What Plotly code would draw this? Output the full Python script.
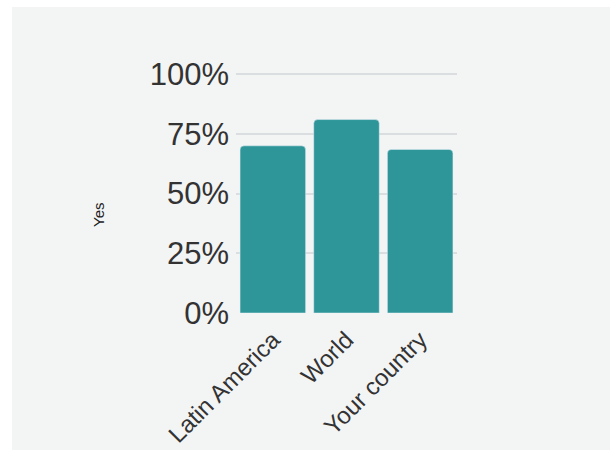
import plotly.graph_objects as go

# data
regions = ["Latin America", "World", "Your country"]
share_yes = [0.70, 0.81, 0.685]
y_ticks = [0, 0.25, 0.5, 0.75, 1.0]
y_tick_labels = ["0%", "25%", "50%", "75%", "100%"]

W, H = 612, 452
L, T = 236, 73
pw, ph = 221, 240
R, B = W - L - pw, H - T - ph

BG = "#f3f5f5"
TEAL = "#2e9699"


def px_x(x):
    return (x - L) / pw


def px_y(y):
    return (T + ph - y) / ph


fig = go.Figure(
    go.Bar(
        x=regions,
        y=share_yes,
        marker=dict(color=TEAL, cornerradius=4),
        hoverinfo="skip",
    )
)

# grey card behind the chart (white frame around it)
fig.add_shape(
    type="rect", xref="paper", yref="paper", layer="below",
    x0=px_x(12), x1=px_x(610),
    y0=px_y(450), y1=px_y(7),
    fillcolor=BG, line=dict(width=0),
)

fig.add_annotation(
    text="Yes", xref="paper", yref="paper",
    x=px_x(98), y=px_y(215), xanchor="center", yanchor="middle",
    textangle=-90, showarrow=False,
    font=dict(family="Liberation Sans, Arial", size=15, color="#222"),
)

fig.update_layout(
    width=W, height=H,
    margin=dict(l=L, r=R, t=T, b=B),
    paper_bgcolor="white",
    plot_bgcolor="rgba(0,0,0,0)",
    bargap=0.11,
    showlegend=False,
    font=dict(family="Liberation Sans, Arial", color="#333"),
)
fig.update_xaxes(
    tickangle=-45, tickfont=dict(size=24, color="#333"),
    showgrid=False, showline=False, ticks="", ticklabelstandoff=7,
    automargin=False,
)
fig.update_yaxes(
    range=[0, 1.005], tickvals=y_ticks, ticktext=y_tick_labels,
    tickfont=dict(size=31, color="#333"),
    showgrid=True, gridcolor="#dadee0", gridwidth=1.5,
    zeroline=False, showline=False, ticks="", ticklabelstandoff=6,
    automargin=False,
)

# page body has a default margin; drop it so the figure sits at 0,0
fig.write_html(
    "out.html",
    config={"displayModeBar": False},
    post_script="document.body.style.margin='0';",
)
